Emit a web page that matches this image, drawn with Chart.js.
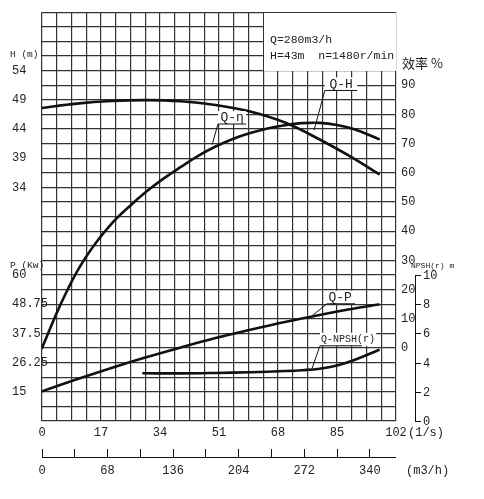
<!DOCTYPE html>
<html>
<head>
<meta charset="utf-8">
<script src="https://cdn.jsdelivr.net/npm/chart.js@4.4.1/dist/chart.umd.min.js"></script>
<style>
html, body { margin: 0; padding: 0; background: #fff; }
</style>
</head>
<body>
<canvas id="pumpChart" width="484" height="499"></canvas>
<script>
// Q en l/s para cada curva
var qH = [0, 10, 20, 30, 40, 50, 60, 70, 80, 90, 97];
var headH = [47.6, 48.35, 48.8, 48.95, 48.75, 48.1, 47.0, 45.1, 42.2, 38.9, 36.3];

var qEff = [0, 5, 10, 15, 20, 25, 30, 35, 40, 45, 50, 55, 60, 65, 70, 75, 80, 85, 90, 97];
var eff = [0, 14, 26, 35.2, 42.5, 48.3, 53.5, 58, 62, 65.8, 69, 71.6, 73.6, 75.2, 76.3, 77, 77.1, 76.4, 74.9, 71.6];

var qPow = [0, 10, 20, 30, 40, 50, 60, 70, 80, 90, 97];
var power = [15.2, 19.8, 24.2, 28.3, 32.1, 35.7, 38.9, 41.9, 44.6, 47.1, 48.6];

var qNpsh = [29.2, 40, 50, 60, 70, 75, 80, 85, 90, 97];
var npsh = [3.27, 3.26, 3.29, 3.34, 3.42, 3.48, 3.58, 3.8, 4.18, 4.86];

// etiquetas de los ejes
var qTicks = [0, 17, 34, 51, 68, 85, 102];
var m3hTicks = [0, 68, 136, 204, 272, 340];
var hTicks = [34, 39, 44, 49, 54];
var pTicks = [15, 26.25, 37.5, 48.75, 60];
var effTicks = [0, 10, 20, 30, 40, 50, 60, 70, 80, 90];
var npshTicks = [0, 2, 4, 6, 8, 10];

var MONO = '"Liberation Mono", "DejaVu Sans Mono", monospace';
var INK = '#222';
var GRID = '#333';
var LINE = '#111';

// notas con línea guía (coordenadas en valores de datos)
var notes = [
    { text: 'Q-H', axis: 'y', x1: 81.5, x2: 90.8, tx: 86.2, y: 50.6, toX: 78.4, toY: 43.8, size: 13 },
    { text: 'Q-η', axis: 'y', x1: 50.7, x2: 58.8, tx: 54.8, y: 44.85, toX: 49.0, toY: 41.3, size: 13 },
    { text: 'Q-P', axis: 'p', x1: 82.1, x2: 90.2, tx: 85.9, y: 48.9, toX: 78.1, toY: 44.6, size: 13 },
    { text: 'Q-NPSH(r)', axis: 'n', x1: 80.1, x2: 92.2, tx: 88.2, y: 5.15, toX: 77.8, toY: 3.59, size: 10 }
];

function pts(xs, ys) {
    return xs.map(function (x, i) { return { x: x, y: ys[i] }; });
}

function txt(ctx, s, x, y, size, align, font) {
    ctx.font = size + 'px ' + (font || MONO);
    ctx.textAlign = align || 'left';
    ctx.textBaseline = 'middle';
    ctx.fillStyle = INK;
    ctx.fillText(s, x, y);
}

function stepTicks(min, max, step) {
    var out = [];
    for (var v = min; v <= max + 1e-9; v += step) out.push({ value: Math.round(v * 1000) / 1000 });
    return out;
}

var extras = {
    id: 'extras',
    beforeDatasetsDraw: function (chart) {
        var ctx = chart.ctx, sx = chart.scales.x, sy = chart.scales.y;
        // recuadro blanco de datos arriba a la derecha
        var l = Math.round(sx.getPixelForValue(63.75)), r = Math.round(sx.getPixelForValue(102));
        var t = Math.round(sy.getPixelForValue(64)), b = Math.round(sy.getPixelForValue(54));
        ctx.save();
        ctx.fillStyle = '#fff';
        ctx.fillRect(l + 1, t + 1, r - l - 1, b - t - 1);
        txt(ctx, 'Q=280m3/h', l + 7, t + 28, 11.5);
        txt(ctx, 'H=43m  n=1480r/min', l + 7, t + 44, 11.5);
        ctx.restore();
    },
    afterDatasetsDraw: function (chart) {
        var ctx = chart.ctx, sx = chart.scales.x;
        ctx.save();
        notes.forEach(function (n) {
            var sc = chart.scales[n.axis];
            var a = sx.getPixelForValue(n.x1), b = sx.getPixelForValue(n.x2);
            var y = sc.getPixelForValue(n.y);
            var cx = sx.getPixelForValue(n.tx);
            ctx.font = n.size + 'px ' + MONO;
            var w = ctx.measureText(n.text).width;
            var l = Math.min(a, cx - w / 2 - 1), r = Math.max(b, cx + w / 2 + 1);
            ctx.fillStyle = '#fff';
            ctx.fillRect(l, y - 13, r - l, 13);
            txt(ctx, n.text, cx, y - 6, n.size, 'center');
            ctx.strokeStyle = LINE;
            ctx.lineWidth = 1;
            ctx.beginPath();
            ctx.moveTo(b, y);
            ctx.lineTo(a, y);
            ctx.lineTo(sx.getPixelForValue(n.toX), sc.getPixelForValue(n.toY));
            ctx.stroke();
        });
        ctx.restore();
    },
    afterDraw: function (chart) {
        var ctx = chart.ctx, s = chart.scales;
        ctx.save();
        // eje P a la izquierda
        pTicks.forEach(function (v) {
            txt(ctx, String(v), 12, s.p.getPixelForValue(v), 12);
        });
        txt(ctx, 'H (m)', 10, s.y.getPixelForValue(56.8), 9.5);
        txt(ctx, 'P (Kw)', 10, s.p.getPixelForValue(63.5), 9.5);
        // títulos a la derecha
        txt(ctx, '效率 %', 402, s.eff.getPixelForValue(97.5), 13, 'left', '"Noto Sans CJK SC", sans-serif');
        txt(ctx, 'NPSH(r) m', 411, s.eff.getPixelForValue(28), 8);
        // eje NPSH
        var ax = 415;
        ctx.strokeStyle = LINE;
        ctx.lineWidth = 1;
        ctx.beginPath();
        ctx.moveTo(ax + 0.5, s.n.getPixelForValue(10));
        ctx.lineTo(ax + 0.5, s.n.getPixelForValue(0));
        ctx.stroke();
        npshTicks.forEach(function (v) {
            var y = Math.round(s.n.getPixelForValue(v)) + 0.5;
            ctx.beginPath();
            ctx.moveTo(ax, y);
            ctx.lineTo(ax + 6, y);
            ctx.stroke();
            txt(ctx, String(v), ax + 8, y, 12);
        });
        // unidades del eje inferior
        txt(ctx, '(1/s)', s.x.getPixelForValue(102) + 12, 433, 12);
        var ly = Math.round(s.x2.top + 8) + 0.5;
        ctx.beginPath();
        ctx.moveTo(s.x2.getPixelForValue(0), ly);
        ctx.lineTo(s.x2.getPixelForValue(367.2), ly);
        ctx.stroke();
        txt(ctx, '(m3/h)', 406, 471, 12);
        ctx.restore();
    }
};

var ctx = document.getElementById('pumpChart').getContext('2d');
var pumpChart = new Chart(ctx, {
    type: 'line',
    data: {
        datasets: [
            { label: 'Q-H', data: pts(qH, headH), yAxisID: 'y' },
            { label: 'Q-η', data: pts(qEff, eff), yAxisID: 'eff' },
            { label: 'Q-P', data: pts(qPow, power), yAxisID: 'p' },
            { label: 'Q-NPSH(r)', data: pts(qNpsh, npsh), yAxisID: 'n' }
        ]
    },
    options: {
        responsive: false,
        animation: false,
        layout: { padding: { top: 9, left: 12, right: 0, bottom: 0 } },
        elements: {
            line: { borderColor: LINE, borderWidth: 2.6, tension: 0.4, fill: false, borderCapStyle: 'round', borderJoinStyle: 'round' },
            point: { radius: 0 }
        },
        plugins: {
            legend: { display: false },
            tooltip: { enabled: false }
        },
        scales: {
            x: {
                type: 'linear', position: 'bottom', min: 0, max: 102,
                afterBuildTicks: function (s) { s.ticks = stepTicks(0, 102, 4.25); },
                afterFit: function (s) { s.height = 28; },
                grid: { color: GRID, lineWidth: 1.2, drawTicks: false },
                border: { display: false },
                ticks: {
                    autoSkip: false, maxRotation: 0, padding: 5, color: INK,
                    font: { family: MONO, size: 12 },
                    callback: function (v) { return qTicks.indexOf(v) >= 0 ? String(v) : ''; }
                }
            },
            x2: {
                type: 'linear', position: 'bottom', min: 0, max: 367.2,
                afterBuildTicks: function (s) { s.ticks = stepTicks(0, 340, 34); },
                afterFit: function (s) { s.height = 50; },
                grid: { drawOnChartArea: false, drawTicks: true, tickLength: 8, tickColor: LINE },
                border: { display: false },
                ticks: {
                    autoSkip: false, maxRotation: 0, padding: 7, color: INK,
                    font: { family: MONO, size: 12 },
                    callback: function (v) { return m3hTicks.indexOf(v) >= 0 ? String(v) : ''; }
                }
            },
            y: {
                position: 'left', min: -6, max: 64,
                afterBuildTicks: function (s) { s.ticks = stepTicks(-6, 64, 2.5); },
                afterFit: function (s) { s.width = 30; },
                grid: { color: GRID, lineWidth: 1.2, drawTicks: false },
                border: { display: false },
                ticks: {
                    autoSkip: false, crossAlign: 'far', padding: 0, color: INK,
                    font: { family: MONO, size: 12 },
                    callback: function (v) { return hTicks.indexOf(v) >= 0 ? String(v) : ''; }
                }
            },
            eff: {
                position: 'right', min: -25, max: 115,
                afterBuildTicks: function (s) { s.ticks = effTicks.map(function (v) { return { value: v }; }); },
                afterFit: function (s) { s.width = 88; },
                grid: { drawOnChartArea: false, drawTicks: false },
                border: { display: false },
                ticks: { autoSkip: false, padding: 5, color: INK, font: { family: MONO, size: 12 } }
            },
            p: { display: false, min: 3.75, max: 161.25 },
            n: { display: false, min: 0, max: 28 }
        }
    },
    plugins: [extras]
});
</script>
</body>
</html>
